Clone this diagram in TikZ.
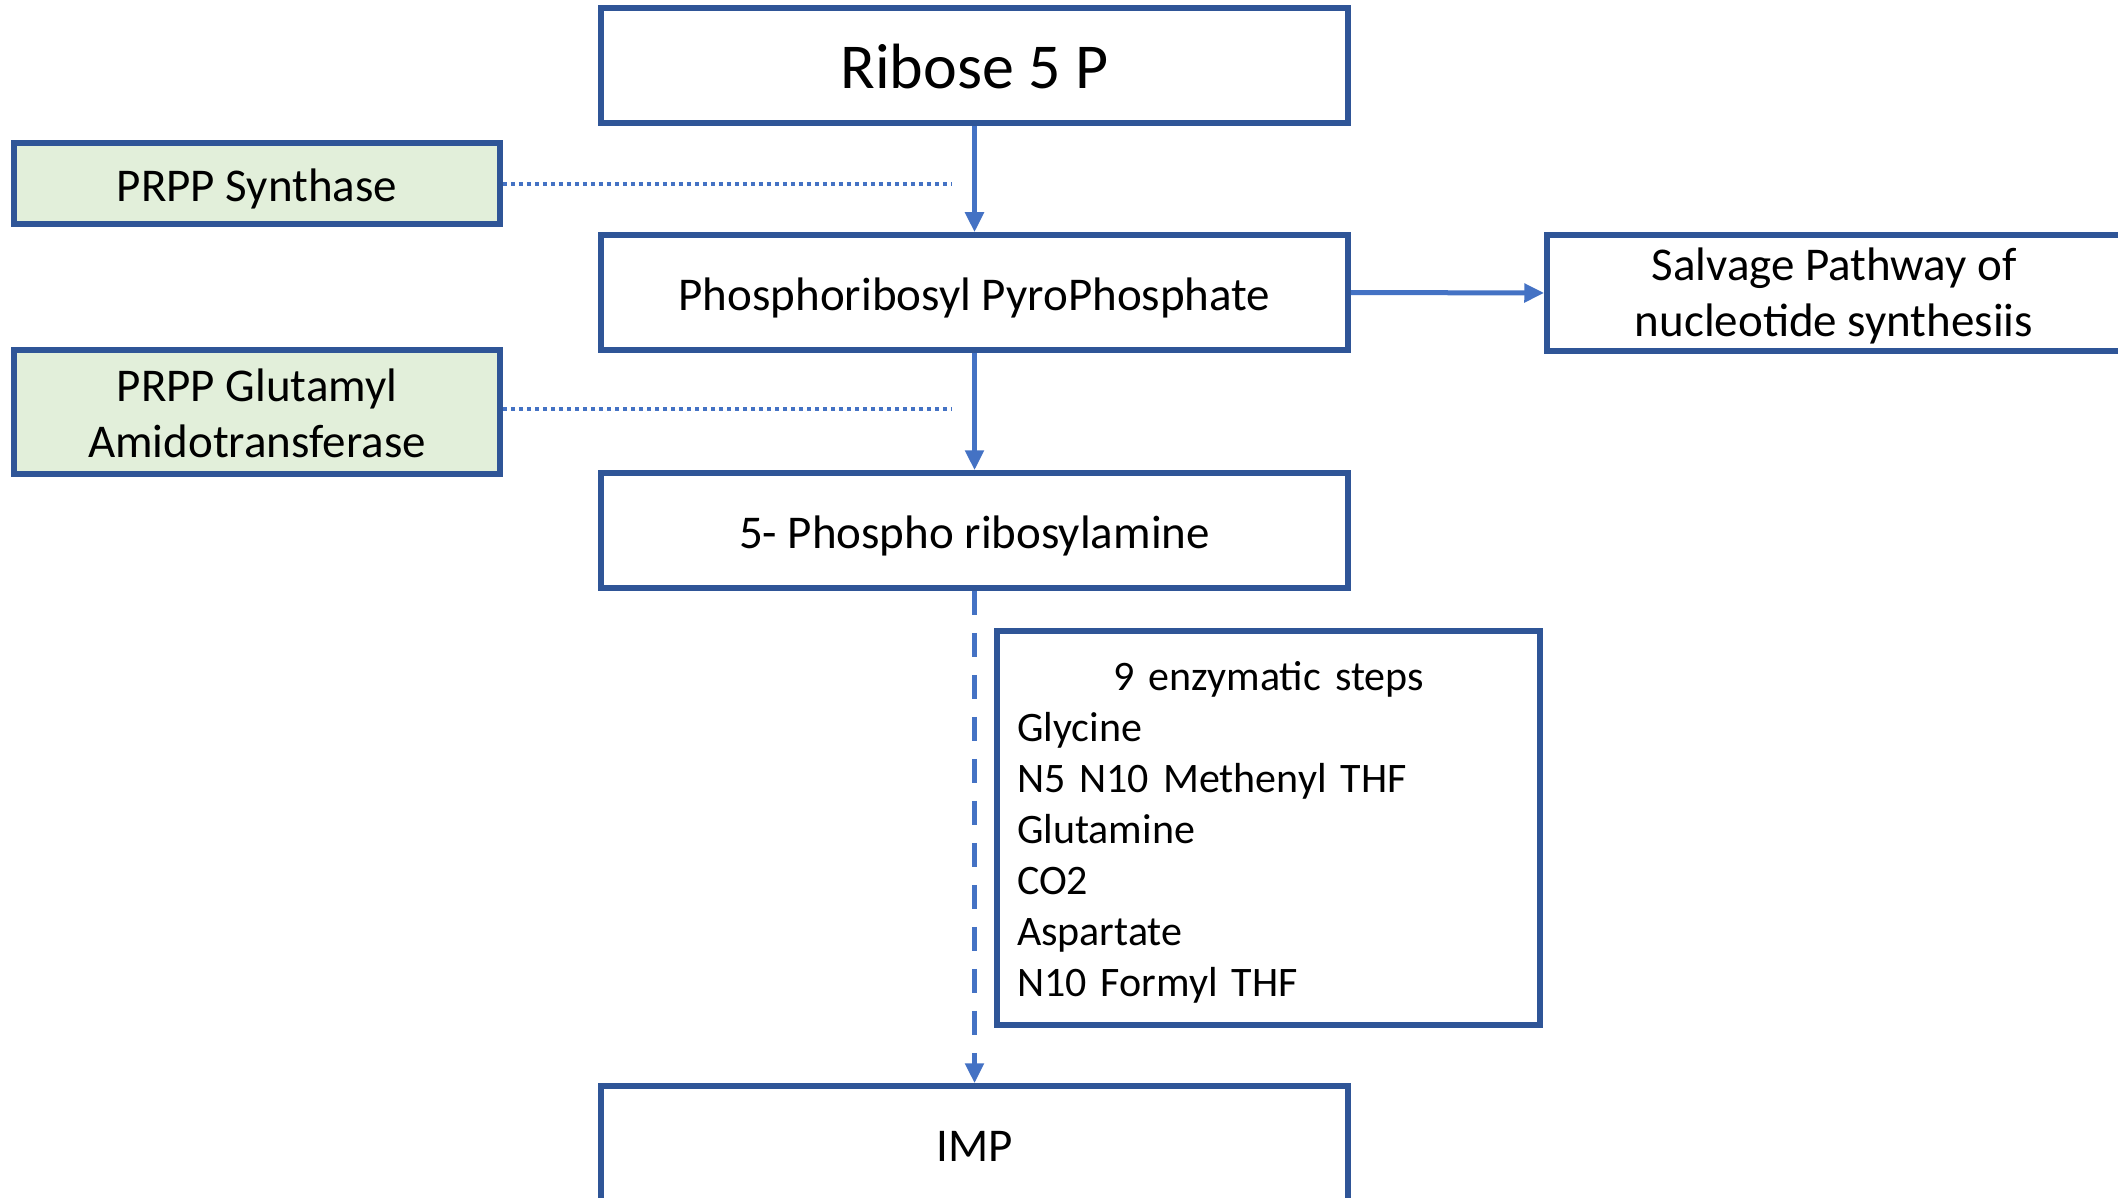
\documentclass[tikz,border=0pt]{standalone}
\usepackage{fontspec}
\setmainfont{Carlito}
\usetikzlibrary{arrows.meta}
\definecolor{boxblue}{HTML}{2F5597}
\definecolor{arrowblue}{HTML}{4472C4}
\definecolor{enzgreen}{HTML}{E2EFDA}
\begin{document}
\begin{tikzpicture}[x=1pt,y=-1pt,
  box/.style={draw=boxblue, line width=5.5pt, fill=white, inner sep=0pt, align=center, font=\fontsize{47}{56}\selectfont},
  oneline/.style={text height=36pt, text depth=0pt},
  mainbox/.style={box, minimum width=747pt, minimum height=115pt},
  enzbox/.style={box, fill=enzgreen, minimum width=486pt},
  flow/.style={arrowblue, line width=5pt, -{Triangle[length=20pt,width=18pt]}},
  dashflow/.style={flow, dash pattern=on 24pt off 18pt},
  dotlink/.style={arrowblue, line width=4pt, dash pattern=on 4pt off 4pt}]
\useasboundingbox (0,0) rectangle (2118,1198);
\node[mainbox, font=\fontsize{64}{72}\selectfont, text height=47pt, text depth=0pt] (ribose) at (974.5,65.5) {Ribose 5 P};
\node[mainbox, oneline] (prpp) at (974.5,292.5) {Phosphoribosyl PyroPhosphate};
\node[mainbox, oneline] (pra) at (974.5,530.5) {5- Phospho ribosylamine};
\node[mainbox, oneline] (imp) at (974.5,1143.5) {IMP};
\node[enzbox, oneline, minimum height=81pt] (synth) at (257,183.5) {PRPP Synthase};
\node[enzbox, minimum height=124pt] (amido) at (257,412) {\rule{0pt}{36pt}PRPP Glutamyl\\Amidotransferase};
\node[box, minimum width=574pt, minimum height=116pt] (salv) at (1834,293) {\rule{0pt}{39pt}Salvage Pathway of\\nucleotide synthesiis};
\node[box, minimum width=543pt, minimum height=394pt, text width=503pt, align=left, font=\fontsize{42}{51}\selectfont] (steps) at (1268.5,828)
  {\makebox[503pt][c]{\rule{0pt}{37pt}9 enzymatic steps}\\Glycine\\N5 N10 Methenyl THF\\Glutamine\\CO2\\Aspartate\\N10 Formyl THF};
\draw[flow] (ribose) -- (prpp);
\draw[flow] (prpp) -- (pra);
\draw[dashflow] (pra) -- (imp);
\draw[flow] (prpp.east) -- (salv.west);
\coordinate (d1) at (952,184);
\coordinate (d2) at (952,409);
\draw[dotlink] (synth.east |- d1) -- (d1);
\draw[dotlink] (amido.east |- d2) -- (d2);
\end{tikzpicture}
\end{document}
